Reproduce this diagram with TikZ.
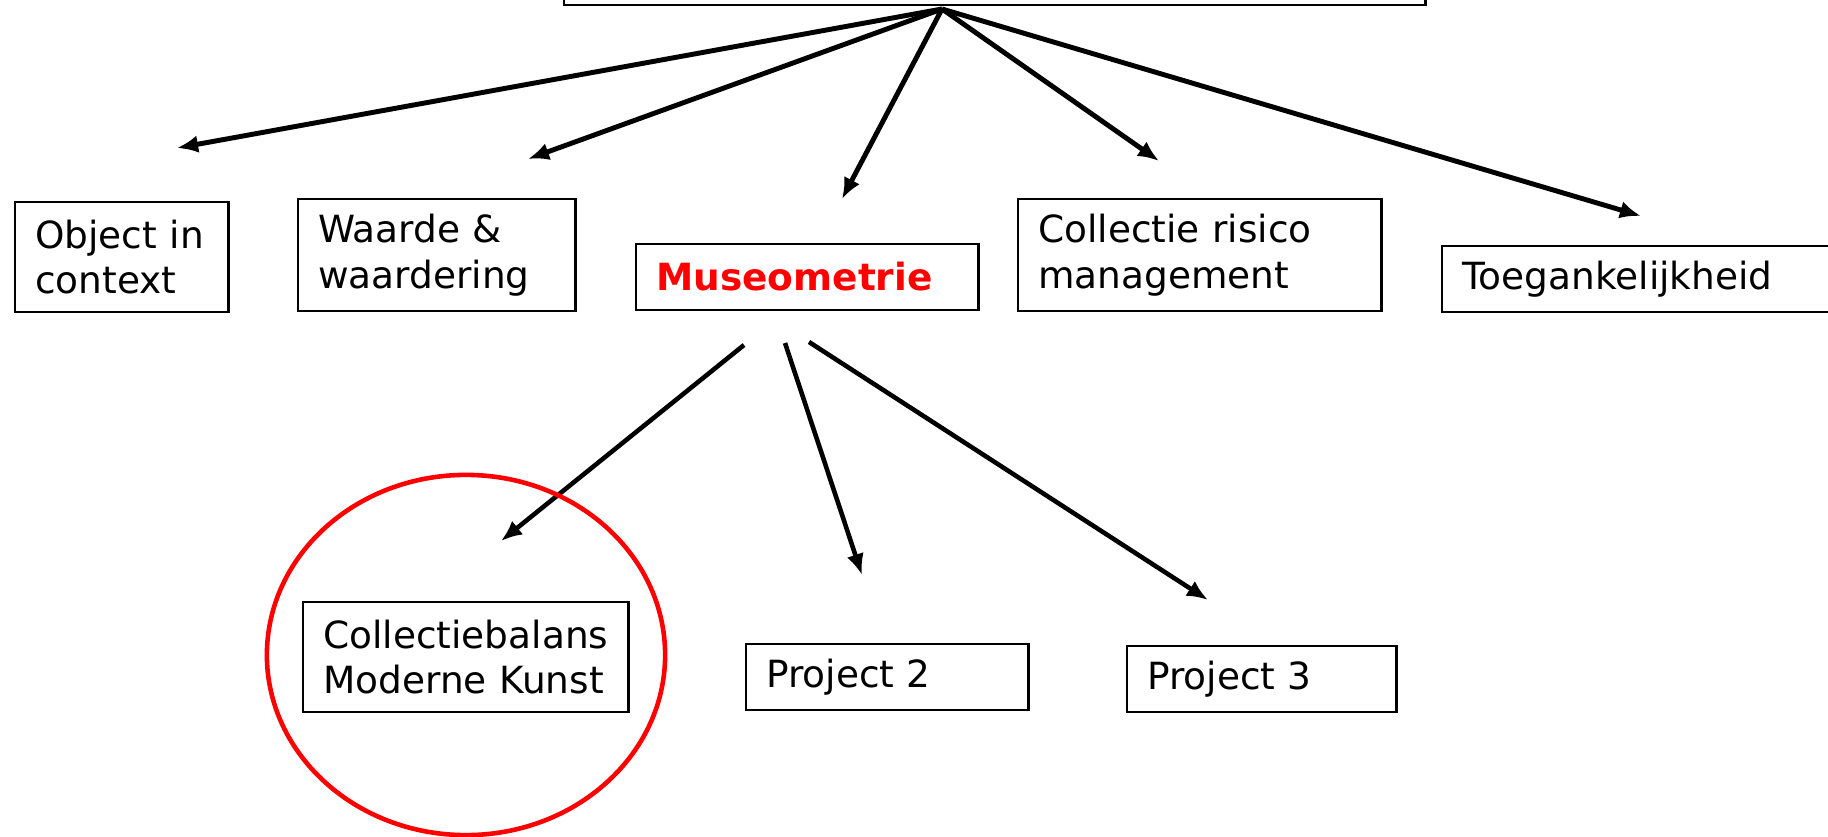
\documentclass[tikz,border=0pt]{standalone}
\usepackage{fontspec}
\setmainfont{DejaVu Sans}
\usetikzlibrary{arrows.meta}

\begin{document}
\begin{tikzpicture}[ x=0.01cm, y=-0.01cm, >={Latex[length=6pt,width=5pt]},
        box/.style={ draw, line width=0.7pt, align=left, anchor=west,
          inner xsep=0.2cm, inner ysep=0pt,
          font=\fontsize{10.65}{12.9}\selectfont },
        link/.style={ ->, line width=1.4pt } ]
        \clip (0,0) rectangle (1828,837);

        \node[draw,line width=0.7pt,minimum width=8.61cm,minimum height=1cm,
          anchor=south] (root) at (994.5,6) {};

        \node[box,text width=1.73cm,minimum height=1.10cm] (obj) at (14,257)
        {Object in\\context};
        \node[box,text width=2.37cm,minimum height=1.12cm] (waarde) at (297,255)
        {Waarde \&\\waardering};
        \node[box,text width=3.02cm,minimum height=0.66cm] (museo) at (635,277)
        {\textcolor{red}{\bfseries Museometrie}};
        \node[box,text width=3.23cm,minimum height=1.12cm] (risico) at (1017,255)
        {Collectie risico\\management};
        \node[box,text width=3.80cm,minimum height=0.66cm] (toeg) at (1441,279)
        {Toegankelijkheid};

        \node[box,text width=2.85cm,minimum height=1.10cm] (balans) at (302,657)
        {Collectiebalans\\Moderne Kunst};
        \node[box,text width=2.42cm,minimum height=0.66cm] (proj2) at (745,677)
        {Project 2};
        \node[box,text width=2.29cm,minimum height=0.66cm] (proj3) at (1126,679)
        {Project 3};

        \coordinate (apex) at (942,9);
        \foreach \n/\x/\y in {obj/177/148,waarde/528/159,museo/842/199,
          risico/1159/161,toeg/1641/216}
        \coordinate (to\n) at (\x,\y);
        \foreach \n in {obj,waarde,museo,risico,toeg}
        \draw[link] (apex) -- (to\n);

        \foreach \n/\x/\y/\u/\v in {balans/744/345/501/541,proj2/785/343/862/575,
          proj3/809/342/1208/600} {
          \coordinate (from\n) at (\x,\y);
          \coordinate (to\n) at (\u,\v);
          \draw[link,line width=1.3pt] (from\n) -- (to\n); }

        \draw[red,line width=1.3pt] (466,655) ellipse [x radius=1.99cm,
        y radius=1.8cm];
      \end{tikzpicture}
\end{document}
